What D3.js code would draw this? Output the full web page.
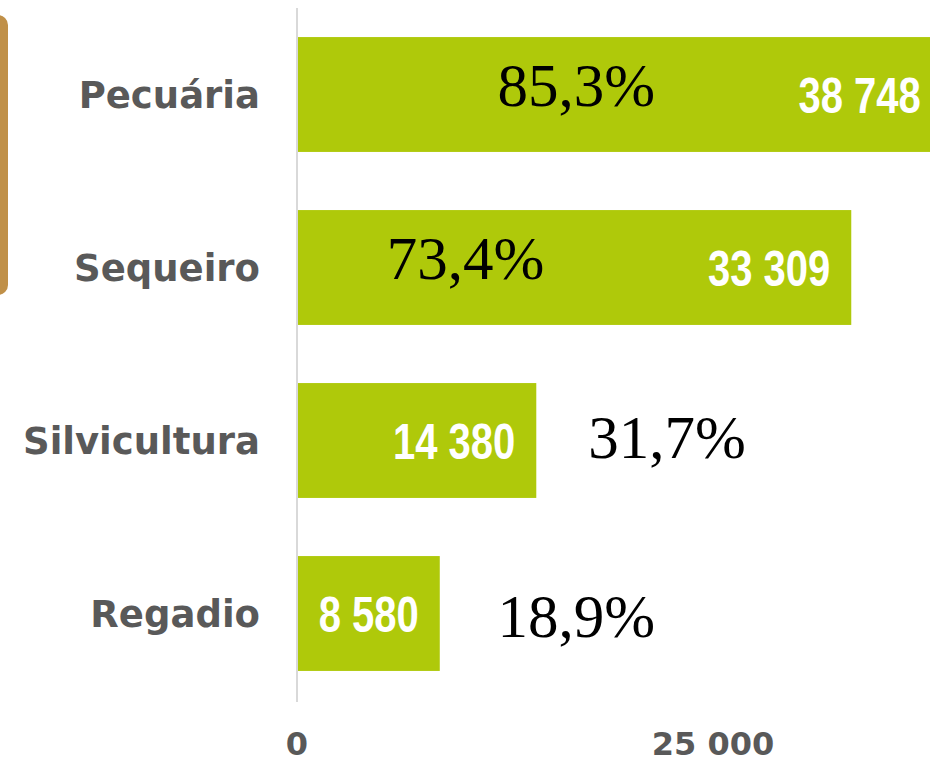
<!DOCTYPE html>
<html>
<head>
<meta charset="utf-8">
<script src="https://cdn.jsdelivr.net/npm/d3@7"></script>
<style>
  html, body { margin: 0; padding: 0; background: #fff; overflow: hidden; }
  svg { display: block; }
</style>
</head>
<body>
<svg id="chart"></svg>
<script>
// data
let categories = ['Pecuária', 'Sequeiro', 'Silvicultura', 'Regadio'];
let values = [38748, 33309, 14380, 8580];
let shares = ['85,3%', '73,4%', '31,7%', '18,9%'];
let tickValues = [0, 25000];

// where the share annotations sit (axis units / px nudge)
let shareAt = [12050, 5400, 17500, 12050];
let shareDy = [11, 11, 17, 23];

let width = 930, height = 759;
let colorBar = '#afc90a';
let colorText = '#595959';
let colorAxis = '#d9d9d9';

let svg = d3.select('#chart').attr('width', width).attr('height', height);

let x = d3.scaleLinear().domain([0, 25000]).range([297, 713]);
let y = d3.scaleBand().domain(categories).range([8, 700])
    .paddingInner(0.336).paddingOuter(0.168);

let fmt = d3.formatLocale({decimal: ',', thousands: ' ', grouping: [3], currency: ['', '']}).format(',d');

// brown box cut off at the left edge
svg.append('rect')
    .attr('x', -20).attr('y', 15)
    .attr('width', 28).attr('height', 280)
    .attr('rx', 10)
    .attr('fill', '#c09048');

// bars
svg.selectAll('rect.bar')
    .data(values)
    .join('rect')
    .attr('class', 'bar')
    .attr('x', x(0))
    .attr('y', (d, i) => y(categories[i]))
    .attr('width', d => x(d) - x(0))
    .attr('height', y.bandwidth())
    .attr('fill', colorBar);

// axis line
svg.append('line')
    .attr('x1', x(0)).attr('x2', x(0))
    .attr('y1', 8).attr('y2', 702)
    .attr('stroke', colorAxis)
    .attr('stroke-width', 2);

// category labels
svg.selectAll('text.cat')
    .data(categories)
    .join('text')
    .attr('class', 'cat')
    .attr('x', 260)
    .attr('y', d => y(d) + y.bandwidth() / 2)
    .attr('dy', '0.36em')
    .attr('text-anchor', 'end')
    .attr('font-family', 'DejaVu Sans')
    .attr('font-weight', 'bold')
    .attr('font-size', 37)
    .attr('fill', colorText)
    .text(d => d);

// value labels inside bars (squeezed to look condensed)
svg.selectAll('g.val')
    .data(values)
    .join('g')
    .attr('class', 'val')
    .attr('transform', (d, i) => `translate(${x(d) - 21},${y(categories[i]) + y.bandwidth() / 2}) scale(0.8,1)`)
    .append('text')
    .attr('dy', '0.36em')
    .attr('text-anchor', 'end')
    .attr('font-family', 'Liberation Sans')
    .attr('font-weight', 'bold')
    .attr('font-size', 50)
    .attr('fill', '#fff')
    .text(d => fmt(d));

// share annotations
svg.selectAll('text.share')
    .data(shares)
    .join('text')
    .attr('class', 'share')
    .attr('x', (d, i) => x(shareAt[i]))
    .attr('y', (d, i) => y(categories[i]) + y.bandwidth() / 2 + shareDy[i])
    .attr('font-family', 'Liberation Serif')
    .attr('font-size', 61)
    .attr('fill', '#000')
    .text(d => d);

// x ticks
svg.selectAll('text.tick')
    .data(tickValues)
    .join('text')
    .attr('class', 'tick')
    .attr('x', d => x(d))
    .attr('y', 755)
    .attr('text-anchor', 'middle')
    .attr('font-family', 'DejaVu Sans')
    .attr('font-weight', 'bold')
    .attr('font-size', 32)
    .attr('fill', colorText)
    .text(d => fmt(d));
</script>
</body>
</html>
